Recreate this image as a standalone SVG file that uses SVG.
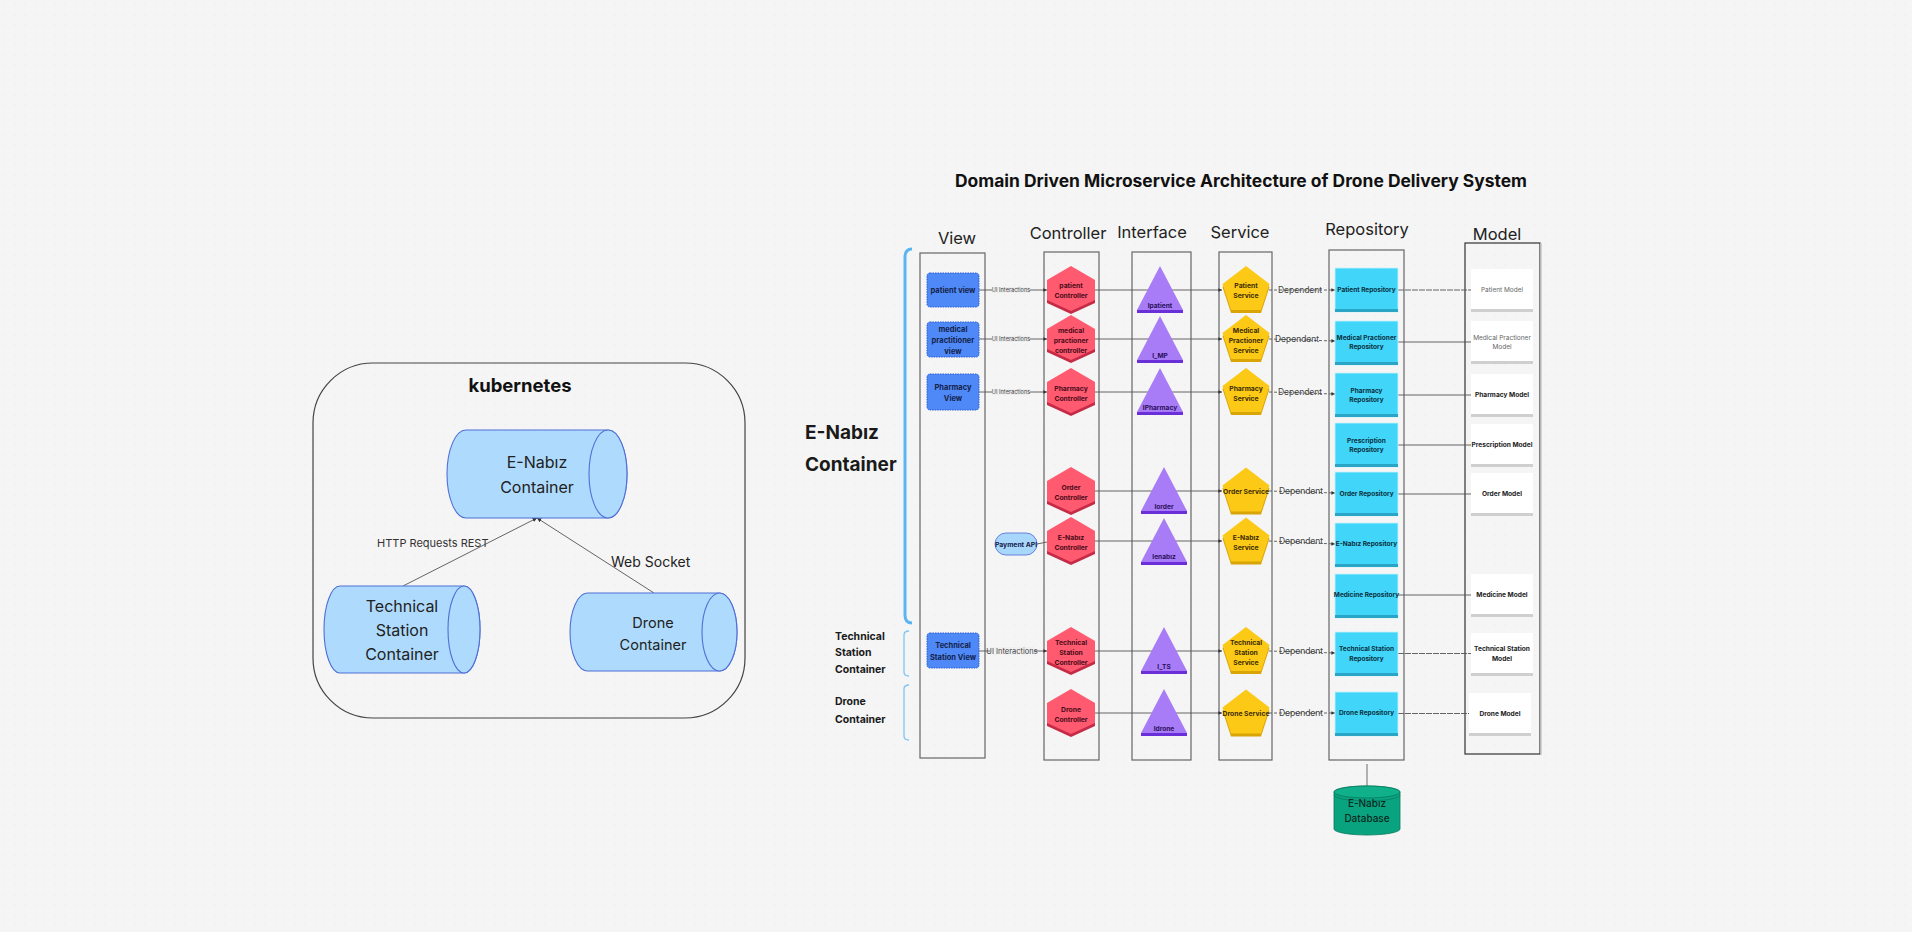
<svg xmlns="http://www.w3.org/2000/svg" xmlns:xlink="http://www.w3.org/1999/xlink" width="1912" height="932" viewBox="0 0 1912 932">
<defs>
<pattern id="dots" width="10" height="10" patternUnits="userSpaceOnUse"><circle cx="5" cy="5" r="0.6" fill="#e2e2e2"/></pattern>
<marker id="arr" viewBox="0 0 6 6" refX="6" refY="3" markerWidth="4" markerHeight="4" orient="auto"><path d="M0,0 L6,3 L0,6 Z" fill="#333"/></marker>
<marker id="arrK" viewBox="0 0 6 6" refX="6" refY="3" markerWidth="5" markerHeight="5" orient="auto"><path d="M0,0 L6,3 L0,6 Z" fill="#333"/></marker>
<g id="hex"><polygon points="0,-21 24,-7 24,13 0,24 -24,13 -24,-7" fill="#c52b46"/><polygon points="0,-24 24,-10 24,10 0,21 -24,10 -24,-10" fill="#ff5a6f"/></g>
<g id="tri"><polygon points="0,-24 23,20 -23,20" fill="#a97cf7"/><rect x="-23" y="20" width="46" height="3" fill="#6a2fd8"/></g>
<g id="pent"><polygon points="0,-21 23.5,-3 15,23 -15,23 -23.5,-3" fill="#d9a406"/><polygon points="0,-24 23.5,-6 15,20 -15,20 -23.5,-6" fill="#fcc917"/></g>
<g id="repo"><rect x="0" y="0" width="63" height="44" fill="#41d6f9" stroke="#c9f2fc" stroke-width="0.8"/><rect x="0" y="41" width="63" height="3" fill="#2aa5c5"/></g>
<g id="model"><rect x="0" y="0" width="62" height="43" fill="#ffffff"/><rect x="0" y="40" width="62" height="3" fill="#cfcfcf"/></g>
</defs>
<style>
text{font-family:Inter,"Liberation Sans",sans-serif}
.hdr{font-size:16.5px;fill:#222;text-anchor:middle}
.col{fill:none;stroke:#666;stroke-width:1.2}
.vw{fill:#4f89f7;stroke:#2c5fd4;stroke-width:1;stroke-dasharray:1.5 1}
.vt{font-size:7.5px;font-weight:700;fill:#14224a;text-anchor:middle;dominant-baseline:central}
.ct{font-size:6.8px;font-weight:700;fill:#4a0b18;text-anchor:middle;dominant-baseline:central}
.it{font-size:6.6px;font-weight:700;fill:#2b0f5c;text-anchor:middle;dominant-baseline:central}
.st{font-size:6.8px;font-weight:700;fill:#3d2c00;text-anchor:middle;dominant-baseline:central}
.rt{font-size:6.5px;font-weight:700;fill:#0b2f3d;text-anchor:middle;dominant-baseline:central}
.mt{font-size:6.6px;font-weight:700;fill:#222;text-anchor:middle;dominant-baseline:central}
.mg{font-size:6.5px;font-weight:400;fill:#666;text-anchor:middle;dominant-baseline:central}
.ln{stroke:#555;stroke-width:0.9;fill:none}
.dl{stroke:#555;stroke-width:0.9;fill:none;stroke-dasharray:3 2}
.ui{font-size:5.6px;fill:#444;text-anchor:middle;dominant-baseline:central}
.dep{font-size:8.5px;fill:#444;text-anchor:middle;dominant-baseline:central}
.cyl{fill:#aedbfd;stroke:#4f6fd6;stroke-width:1.1}
.kt{font-size:16px;fill:#222;text-anchor:middle;dominant-baseline:central}
</style>
<rect width="1912" height="932" fill="#f5f5f5"/>
<rect width="1912" height="932" fill="url(#dots)"/>

<!-- Kubernetes -->
<g id="kubernetes">
<rect x="313" y="363" width="432" height="355" rx="60" ry="60" fill="none" stroke="#444" stroke-width="1.2"/>
<text x="520" y="385" font-size="18.5" font-weight="700" fill="#111" text-anchor="middle" dominant-baseline="central">kubernetes</text>
</g>
<g id="k-connectors">
<line class="ln" x1="403" y1="586" x2="537" y2="518" marker-end="url(#arrK)" stroke="#666"/>
<line class="ln" x1="654" y1="593" x2="537" y2="518" marker-end="url(#arrK)" stroke="#666"/>
<text x="377" y="543" font-size="11" fill="#333" dominant-baseline="central">HTTP Requests REST</text>
<text x="611" y="561" font-size="14" fill="#222" dominant-baseline="central">Web Socket</text>
</g>
<g id="k-enabiz">
<path class="cyl" d="M466,430 L608,430 A19,44 0 0 1 608,518 L466,518 A19,44 0 0 1 466,430 Z"/>
<ellipse class="cyl" cx="608" cy="474" rx="19" ry="44"/>
<text class="kt" x="537"><tspan x="537" y="462">E-Nabız</tspan><tspan x="537" y="487">Container</tspan></text>
</g>
<g id="k-ts">
<path class="cyl" d="M340,586 L464,586 A16,43.5 0 0 1 464,673 L340,673 A16,43.5 0 0 1 340,586 Z"/>
<ellipse class="cyl" cx="464" cy="629.5" rx="16" ry="43.5"/>
<text class="kt" x="402"><tspan x="402" y="606">Technical</tspan><tspan x="402" y="630">Station</tspan><tspan x="402" y="654">Container</tspan></text>
</g>
<g id="k-drone">
<path class="cyl" d="M587.5,593 L719.5,593 A17.5,39 0 0 1 719.5,671 L587.5,671 A17.5,39 0 0 1 587.5,593 Z"/>
<ellipse class="cyl" cx="719.5" cy="632" rx="17.5" ry="39"/>
<text class="kt" x="653" style="font-size:14.5px"><tspan x="653" y="622">Drone</tspan><tspan x="653" y="644">Container</tspan></text>
</g>

<!-- Right diagram -->
<text x="1241" y="181" font-size="17" font-weight="700" fill="#111" text-anchor="middle" dominant-baseline="central" textLength="572" lengthAdjust="spacingAndGlyphs">Domain Driven Microservice Architecture of Drone Delivery System</text>

<g id="headers">
<text class="hdr" x="957" y="238" dominant-baseline="central">View</text>
<text class="hdr" x="1068" y="233" dominant-baseline="central">Controller</text>
<text class="hdr" x="1152" y="232" dominant-baseline="central">Interface</text>
<text class="hdr" x="1240" y="232" dominant-baseline="central">Service</text>
<text class="hdr" x="1367" y="229" dominant-baseline="central">Repository</text>
<text class="hdr" x="1497" y="234" dominant-baseline="central">Model</text>
</g>

<g id="columns">
<rect class="col" x="920" y="253" width="65" height="505"/>
<rect class="col" x="1044" y="252" width="55" height="508"/>
<rect class="col" x="1132" y="252" width="59" height="508"/>
<rect class="col" x="1219" y="252" width="53" height="508"/>
<rect class="col" x="1329" y="250" width="75" height="510"/>
<rect x="1465" y="243" width="75" height="511" fill="none" stroke="#333" stroke-width="1.2"/>
<line x1="1541" y1="243" x2="1541" y2="755" stroke="#c8c8c8" stroke-width="1.5"/>
</g>

<g id="brackets">
<path d="M912,249 Q905,249 905,257 L905,615 Q905,623 912,623" fill="none" stroke="#5ab6f2" stroke-width="3"/>
<path d="M909,631 Q904,631 904,635 L904,672 Q904,676 909,676" fill="none" stroke="#7cc6f5" stroke-width="1.3"/>
<path d="M909,685 Q904,685 904,689 L904,736 Q904,740 909,740" fill="none" stroke="#7cc6f5" stroke-width="1.3"/>
<text x="805" y="432" font-size="19" font-weight="700" fill="#1a1a1a" dominant-baseline="central">E-Nabız</text>
<text x="805" y="464" font-size="19" font-weight="700" fill="#1a1a1a" dominant-baseline="central">Container</text>
<text font-size="10.5" font-weight="700" fill="#1a1a1a" dominant-baseline="central"><tspan x="835" y="636">Technical</tspan><tspan x="835" y="652">Station</tspan><tspan x="835" y="669">Container</tspan></text>
<text font-size="10.5" font-weight="700" fill="#1a1a1a" dominant-baseline="central"><tspan x="835" y="701">Drone</tspan><tspan x="835" y="719">Container</tspan></text>
</g>

<g id="connectors">
<!-- view -> controller -->
<line class="ln" x1="979" y1="290" x2="1047" y2="290" marker-end="url(#arr)"/>
<line class="ln" x1="979" y1="339" x2="1047" y2="339" marker-end="url(#arr)"/>
<line class="ln" x1="979" y1="392" x2="1047" y2="392" marker-end="url(#arr)"/>
<line class="ln" x1="979" y1="651" x2="1047" y2="651" marker-end="url(#arr)"/>
<rect x="992" y="287" width="38" height="6" fill="#eeeeee"/><text class="ui" x="1011" y="290">UI Interactions</text>
<rect x="992" y="336" width="38" height="6" fill="#eeeeee"/><text class="ui" x="1011" y="339">UI Interactions</text>
<rect x="992" y="389" width="38" height="6" fill="#eeeeee"/><text class="ui" x="1011" y="392">UI Interactions</text>
<rect x="990" y="647" width="44" height="8" fill="#f0f0f0"/><text class="ui" x="1012" y="651" style="font-size:7.5px">UI Interactions</text>
<!-- controller -> service -->
<line class="ln" x1="1095" y1="290" x2="1222" y2="290" marker-end="url(#arr)"/>
<line class="ln" x1="1095" y1="339" x2="1222" y2="339" marker-end="url(#arr)"/>
<line class="ln" x1="1095" y1="392" x2="1222" y2="392" marker-end="url(#arr)"/>
<line class="ln" x1="1095" y1="491" x2="1222" y2="491" marker-end="url(#arr)"/>
<line class="ln" x1="1095" y1="541" x2="1222" y2="541" marker-end="url(#arr)"/>
<line class="ln" x1="1095" y1="651" x2="1222" y2="651" marker-end="url(#arr)"/>
<line class="ln" x1="1095" y1="713" x2="1222" y2="713" marker-end="url(#arr)"/>
<!-- payment api -->
<line class="ln" x1="1037" y1="544" x2="1047" y2="542"/>
<!-- service -> repository -->
<line class="dl" x1="1269" y1="290" x2="1335" y2="290" marker-end="url(#arr)"/>
<line class="dl" x1="1269" y1="339" x2="1335" y2="341" marker-end="url(#arr)"/>
<line class="dl" x1="1269" y1="392" x2="1335" y2="394" marker-end="url(#arr)"/>
<line class="dl" x1="1269" y1="491" x2="1335" y2="493" marker-end="url(#arr)"/>
<line class="dl" x1="1269" y1="541" x2="1335" y2="544" marker-end="url(#arr)"/>
<line class="dl" x1="1269" y1="651" x2="1335" y2="653" marker-end="url(#arr)"/>
<line class="dl" x1="1269" y1="713" x2="1335" y2="713" marker-end="url(#arr)"/>
<text class="dep" x="1300" y="290">Dependent</text>
<text class="dep" x="1297" y="339">Dependent</text>
<text class="dep" x="1300" y="392">Dependent</text>
<text class="dep" x="1301" y="491">Dependent</text>
<text class="dep" x="1301" y="541">Dependent</text>
<text class="dep" x="1301" y="651">Dependent</text>
<text class="dep" x="1301" y="713">Dependent</text>
<!-- repository -> model -->
<line class="ln" x1="1398" y1="290" x2="1471" y2="290" stroke-dasharray="6 1"/>
<line class="ln" x1="1398" y1="342" x2="1471" y2="342"/>
<line class="ln" x1="1398" y1="395" x2="1471" y2="395"/>
<line class="ln" x1="1398" y1="445" x2="1471" y2="445"/>
<line class="ln" x1="1398" y1="494" x2="1471" y2="494"/>
<line class="ln" x1="1398" y1="595" x2="1471" y2="595"/>
<line class="ln" x1="1398" y1="653.5" x2="1471" y2="653.5" stroke-dasharray="6 1"/>
<line class="ln" x1="1398" y1="713.5" x2="1469" y2="713.5" stroke-dasharray="6 1"/>
<!-- repository -> database -->
<line x1="1367" y1="764" x2="1367" y2="786" stroke="#999" stroke-width="1.5"/>
</g>

<!-- View nodes -->
<g id="v-patient"><rect class="vw" x="927" y="273" width="52" height="34" rx="3"/><text class="vt" x="953" y="290">patient view</text></g>
<g id="v-medical"><rect class="vw" x="927" y="322" width="52" height="35" rx="3"/><text class="vt"><tspan x="953" y="328.5">medical</tspan><tspan x="953" y="339.5">practitioner</tspan><tspan x="953" y="351">view</tspan></text></g>
<g id="v-pharmacy"><rect class="vw" x="927" y="374" width="52" height="36" rx="3"/><text class="vt"><tspan x="953" y="386.5">Pharmacy</tspan><tspan x="953" y="398">View</tspan></text></g>
<g id="v-ts"><rect class="vw" x="927" y="633" width="52" height="35" rx="3"/><text class="vt"><tspan x="953" y="645">Technical</tspan><tspan x="953" y="657">Station View</tspan></text></g>

<g id="payment-api"><rect x="995" y="533" width="42" height="22" rx="11" fill="#a9d6fb" stroke="#5a78d8" stroke-width="0.9"/><text class="vt" x="1016" y="544" style="font-size:6.8px">Payment API</text></g>

<!-- Controllers -->
<g id="c-patient"><use xlink:href="#hex" x="1071" y="290"/><text class="ct"><tspan x="1071" y="285">patient</tspan><tspan x="1071" y="295">Controller</tspan></text></g>
<g id="c-medical"><use xlink:href="#hex" x="1071" y="339"/><text class="ct"><tspan x="1071" y="329.5">medical</tspan><tspan x="1071" y="339.5">practioner</tspan><tspan x="1071" y="349.5">controller</tspan></text></g>
<g id="c-pharmacy"><use xlink:href="#hex" x="1071" y="392"/><text class="ct"><tspan x="1071" y="387.5">Pharmacy</tspan><tspan x="1071" y="397.5">Controller</tspan></text></g>
<g id="c-order"><use xlink:href="#hex" x="1071" y="491"/><text class="ct"><tspan x="1071" y="486.5">Order</tspan><tspan x="1071" y="496.5">Controller</tspan></text></g>
<g id="c-enabiz"><use xlink:href="#hex" x="1071" y="541"/><text class="ct"><tspan x="1071" y="536.5">E-Nabız</tspan><tspan x="1071" y="546.5">Controller</tspan></text></g>
<g id="c-ts"><use xlink:href="#hex" x="1071" y="651"/><text class="ct"><tspan x="1071" y="641.5">Technical</tspan><tspan x="1071" y="651.5">Station</tspan><tspan x="1071" y="661.5">Controller</tspan></text></g>
<g id="c-drone"><use xlink:href="#hex" x="1071" y="713"/><text class="ct"><tspan x="1071" y="708.5">Drone</tspan><tspan x="1071" y="718.5">Controller</tspan></text></g>

<!-- Interfaces -->
<g id="i-patient"><use xlink:href="#tri" x="1160" y="290"/><text class="it" x="1160" y="306">Ipatient</text></g>
<g id="i-mp"><use xlink:href="#tri" x="1160" y="340"/><text class="it" x="1160" y="356">I_MP</text></g>
<g id="i-pharmacy"><use xlink:href="#tri" x="1160" y="392"/><text class="it" x="1160" y="408">IPharmacy</text></g>
<g id="i-order"><use xlink:href="#tri" x="1164" y="491"/><text class="it" x="1164" y="507">Iorder</text></g>
<g id="i-enabiz"><use xlink:href="#tri" x="1164" y="542"/><text class="it" x="1164" y="557">Ienabız</text></g>
<g id="i-ts"><use xlink:href="#tri" x="1164" y="651"/><text class="it" x="1164" y="667">I_TS</text></g>
<g id="i-drone"><use xlink:href="#tri" x="1164" y="713"/><text class="it" x="1164" y="729">Idrone</text></g>

<!-- Services -->
<g id="s-patient"><use xlink:href="#pent" x="1246" y="290"/><text class="st"><tspan x="1246" y="285">Patient</tspan><tspan x="1246" y="295">Service</tspan></text></g>
<g id="s-medical"><use xlink:href="#pent" x="1246" y="339"/><text class="st"><tspan x="1246" y="329.5">Medical</tspan><tspan x="1246" y="339.5">Practioner</tspan><tspan x="1246" y="349.5">Service</tspan></text></g>
<g id="s-pharmacy"><use xlink:href="#pent" x="1246" y="392"/><text class="st"><tspan x="1246" y="387.5">Pharmacy</tspan><tspan x="1246" y="397.5">Service</tspan></text></g>
<g id="s-order"><use xlink:href="#pent" x="1246" y="491.5"/><text class="st" x="1246" y="491.5">Order Service</text></g>
<g id="s-enabiz"><use xlink:href="#pent" x="1246" y="541.5"/><text class="st"><tspan x="1246" y="536.5">E-Nabız</tspan><tspan x="1246" y="546.5">Service</tspan></text></g>
<g id="s-ts"><use xlink:href="#pent" x="1246" y="651"/><text class="st"><tspan x="1246" y="641.5">Technical</tspan><tspan x="1246" y="651.5">Station</tspan><tspan x="1246" y="661.5">Service</tspan></text></g>
<g id="s-drone"><use xlink:href="#pent" x="1246" y="713.5"/><text class="st" x="1246" y="713.5">Drone Service</text></g>

<!-- Repositories -->
<g id="r-patient"><use xlink:href="#repo" x="1335" y="268"/><text class="rt" x="1366.5" y="290">Patient Repository</text></g>
<g id="r-medical"><use xlink:href="#repo" x="1335" y="321"/><text class="rt"><tspan x="1366.5" y="338">Medical Practioner</tspan><tspan x="1366.5" y="347">Repository</tspan></text></g>
<g id="r-pharmacy"><use xlink:href="#repo" x="1335" y="373"/><text class="rt"><tspan x="1366.5" y="390.5">Pharmacy</tspan><tspan x="1366.5" y="400">Repository</tspan></text></g>
<g id="r-prescription"><use xlink:href="#repo" x="1335" y="423"/><text class="rt"><tspan x="1366.5" y="440.5">Prescription</tspan><tspan x="1366.5" y="450">Repository</tspan></text></g>
<g id="r-order"><use xlink:href="#repo" x="1335" y="472"/><text class="rt" x="1366.5" y="494">Order Repository</text></g>
<g id="r-enabiz"><use xlink:href="#repo" x="1335" y="523"/><text class="rt" x="1366.5" y="544">E-Nabız Repository</text></g>
<g id="r-medicine"><use xlink:href="#repo" x="1335" y="574"/><text class="rt" x="1366.5" y="595">Medicine Repository</text></g>
<g id="r-ts"><use xlink:href="#repo" x="1335" y="632"/><text class="rt"><tspan x="1366.5" y="648.5">Technical Station</tspan><tspan x="1366.5" y="658.5">Repository</tspan></text></g>
<g id="r-drone"><use xlink:href="#repo" x="1335" y="692"/><text class="rt" x="1366.5" y="712.5">Drone Repository</text></g>

<!-- Models -->
<g id="m-patient"><use xlink:href="#model" x="1471" y="269"/><text class="mg" x="1502" y="290">Patient Model</text></g>
<g id="m-medical"><use xlink:href="#model" x="1471" y="321"/><text class="mg"><tspan x="1502" y="338">Medical Practioner</tspan><tspan x="1502" y="347">Model</tspan></text></g>
<g id="m-pharmacy"><use xlink:href="#model" x="1471" y="374"/><text class="mt" x="1502" y="395">Pharmacy Model</text></g>
<g id="m-prescription"><use xlink:href="#model" x="1471" y="424"/><text class="mt" x="1502" y="445">Prescription Model</text></g>
<g id="m-order"><use xlink:href="#model" x="1471" y="473"/><text class="mt" x="1502" y="493.5">Order Model</text></g>
<g id="m-medicine"><use xlink:href="#model" x="1471" y="574"/><text class="mt" x="1502" y="594.5">Medicine Model</text></g>
<g id="m-ts"><use xlink:href="#model" x="1471" y="633"/><text class="mt"><tspan x="1502" y="648.5">Technical Station</tspan><tspan x="1502" y="658.5">Model</tspan></text></g>
<g id="m-drone"><use xlink:href="#model" x="1469" y="693"/><text class="mt" x="1500" y="713.5">Drone Model</text></g>

<!-- Database -->
<g id="db-enabiz">
<path d="M1334,792 L1334,829 A33,6 0 0 0 1400,829 L1400,792 A33,6 0 0 0 1334,792 Z" fill="#0aa37f" stroke="#087a60" stroke-width="0.8"/>
<ellipse cx="1367" cy="792" rx="33" ry="6" fill="#0fb08a" stroke="#087a60" stroke-width="0.8"/>
<path d="M1334,795 A33,6 0 0 0 1400,795" fill="none" stroke="#087a60" stroke-width="0.7"/>
<text x="1367" y="803" font-size="10" font-weight="500" fill="#0b2a22" text-anchor="middle" dominant-baseline="central">E-Nabız</text>
<text x="1367" y="818" font-size="10" font-weight="500" fill="#0b2a22" text-anchor="middle" dominant-baseline="central">Database</text>
</g>
</svg>
